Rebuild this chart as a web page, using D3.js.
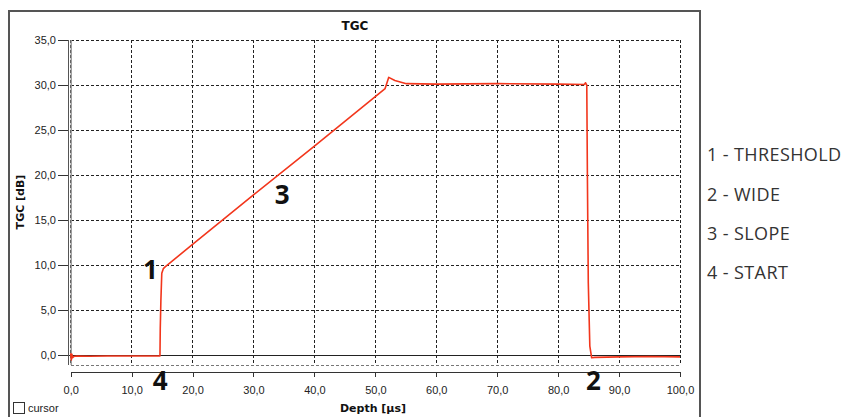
<!DOCTYPE html>
<html>
<head>
<meta charset="utf-8">
<script src="https://cdnjs.cloudflare.com/ajax/libs/d3/7.8.5/d3.min.js"></script>
<style>
body { margin: 0; background: #fff; }
svg { display: block; }
</style>
</head>
<body>
<script>
// TGC curve: depth in µs, gain in dB
var depth = [0, 0.1, 0.2, 0.3, 0.5, 1.0, 3, 6, 9, 12, 14.65, 14.7, 14.8, 14.95, 15.2, 15.5,
  20, 30, 40, 51.6, 52.2, 53.2, 55.1, 60, 70, 80, 84.3, 84.5, 84.7,
  84.8, 84.95, 85.2, 85.5, 86, 90, 95, 100];
var tgc = [0.2, -0.55, 0.1, -0.3, -0.15, -0.1, -0.12, -0.1, -0.1, -0.1, -0.1, 3.0, 6.0, 9.1, 9.6, 9.8,
  12.3, 17.8, 23.2, 29.6, 30.85, 30.5, 30.15, 30.1, 30.15, 30.1, 30.05, 30.25, 30.0,
  20, 8, 1.0, -0.3, -0.25, -0.2, -0.15, -0.2];

var xTicks = [0, 10, 20, 30, 40, 50, 60, 70, 80, 90, 100];
var yTicks = [0, 5, 10, 15, 20, 25, 30, 35];

// numbered markers on the curve and their legend
var marks = [
  {label: "1", x: 13.1, y: 9.5},
  {label: "2", x: 85.8, y: -2.9},
  {label: "3", x: 34.7, y: 17.8},
  {label: "4", x: 14.7, y: -2.9}
];
var legend = ["1 - THRESHOLD", "2 - WIDE", "3 - SLOPE", "4 - START"];

var config = {
  width: 845, height: 417,
  left: 70.7, right: 680, top: 40, bottom: 365,
  axisY: 372
};

function fmt(v){
  return d3.format(".1f")(v).replace(".", ",");
}

function drawChart(){
  var svg = d3.select("body").append("svg")
    .attr("width", config.width)
    .attr("height", config.height);

  var x = d3.scaleLinear().domain([0, 100]).range([config.left, config.right]);
  var y = d3.scaleLinear().domain([-1.1, 35]).range([config.bottom, config.top]);

  // outer frame
  svg.append("rect")
    .attr("x", 9).attr("y", 11)
    .attr("width", 691).attr("height", 430)
    .attr("fill", "none").attr("stroke", "#555").attr("stroke-width", 2);

  svg.append("text")
    .attr("x", 355).attr("y", 30)
    .attr("text-anchor", "middle")
    .style("font", "bold 12px 'DejaVu Sans'")
    .attr("fill", "#111")
    .text("TGC");

  // dashed grid
  var grid = svg.append("g")
    .attr("stroke", "#222").attr("stroke-dasharray", "3,2")
    .attr("shape-rendering", "crispEdges");
  grid.selectAll(".vg").data(xTicks).enter().append("line")
    .attr("x1", function(d){ return x(d); }).attr("x2", function(d){ return x(d); })
    .attr("y1", config.top).attr("y2", config.bottom);
  grid.selectAll(".hg").data(yTicks).enter().append("line")
    .attr("x1", config.left).attr("x2", config.right)
    .attr("y1", function(d){ return y(d); }).attr("y2", function(d){ return y(d); });
  svg.append("line")
    .attr("x1", config.left).attr("x2", config.right)
    .attr("y1", config.bottom).attr("y2", config.bottom)
    .attr("stroke", "#777").attr("stroke-dasharray", "3,2")
    .attr("shape-rendering", "crispEdges");

  // zero line
  svg.append("line")
    .attr("x1", 58).attr("x2", config.right)
    .attr("y1", y(0)).attr("y2", y(0))
    .attr("stroke", "#222").attr("stroke-width", 1)
    .attr("shape-rendering", "crispEdges");

  svg.append("line")
    .attr("x1", config.left + 0.5).attr("x2", config.left + 0.5)
    .attr("y1", config.top).attr("y2", config.bottom)
    .attr("stroke", "#999").attr("stroke-width", 1.5);

  // y axis
  var yAxis = d3.axisLeft(y).tickValues(yTicks).tickSize(10).tickPadding(2).tickFormat(fmt);
  var ya = svg.append("g")
    .attr("transform", "translate(68,0)")
    .attr("shape-rendering", "crispEdges")
    .call(yAxis);
  ya.select(".domain").attr("d", "M0," + config.top + "V" + config.bottom).attr("stroke", "#555");
  ya.selectAll(".tick line").attr("stroke", "#333");
  ya.selectAll("text").style("font", "11px 'Liberation Sans'").attr("fill", "#222");

  // x axis
  var xAxis = d3.axisBottom(x).tickValues(xTicks).tickSize(5).tickPadding(9).tickFormat(fmt);
  var xa = svg.append("g")
    .attr("transform", "translate(0," + config.axisY + ")")
    .attr("shape-rendering", "crispEdges")
    .call(xAxis);
  xa.select(".domain").attr("d", "M" + config.left + ",0H" + config.right).attr("stroke", "#333");
  xa.selectAll(".tick line").attr("stroke", "#333");
  xa.selectAll("text").style("font", "11px 'Liberation Sans'").attr("fill", "#222");

  svg.append("text")
    .attr("x", 373).attr("y", 412)
    .attr("text-anchor", "middle")
    .style("font", "bold 11px 'DejaVu Sans'")
    .attr("fill", "#111")
    .text("Depth [µs]");

  svg.append("text")
    .attr("transform", "translate(24,202) rotate(-90)")
    .attr("text-anchor", "middle")
    .style("font", "bold 11px 'DejaVu Sans'")
    .attr("fill", "#111")
    .text("TGC [dB]");

  // cursor checkbox
  svg.append("rect")
    .attr("x", 13.5).attr("y", 402.5).attr("width", 11).attr("height", 11)
    .attr("fill", "#fff").attr("stroke", "#333");
  svg.append("text")
    .attr("x", 28).attr("y", 412)
    .style("font", "11px 'Liberation Sans'")
    .attr("fill", "#222")
    .text("cursor");

  // curve
  var line = d3.line()
    .x(function(d){ return x(d[0]); })
    .y(function(d){ return y(d[1]); });
  svg.append("path")
    .datum(d3.zip(depth, tgc))
    .attr("d", line)
    .attr("fill", "none")
    .attr("stroke", "#f2361c")
    .attr("stroke-width", 1.6)
    .attr("stroke-linejoin", "round");

  // big numbers
  svg.selectAll(".mark").data(marks).enter().append("text")
    .attr("x", function(d){ return x(d.x); })
    .attr("y", function(d){ return y(d.y); })
    .attr("text-anchor", "middle")
    .attr("dy", "0.35em")
    .style("font", "bold 26px 'Open Sans'")
    .attr("fill", "#111")
    .text(function(d){ return d.label; });

  svg.selectAll(".leg").data(legend).enter().append("text")
    .attr("x", 707)
    .attr("y", function(d, i){ return 155 + i * 39.2; })
    .attr("dy", "0.35em")
    .style("font", "18px 'Open Sans'")
    .style("letter-spacing", "0.4px")
    .attr("fill", "#333")
    .text(function(d){ return d; });
}

drawChart();
</script>
</body>
</html>
